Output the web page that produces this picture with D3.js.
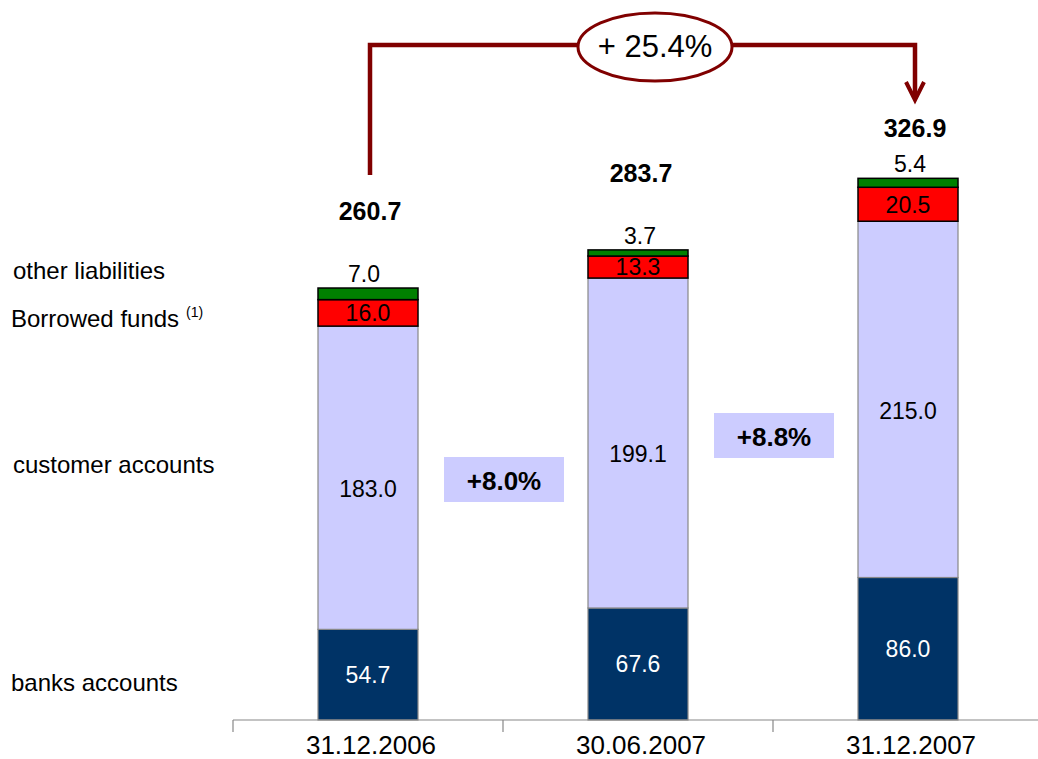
<!DOCTYPE html>
<html><head><meta charset="utf-8">
<script src="https://cdn.jsdelivr.net/npm/d3@7"></script>
<style>body{margin:0;background:#fff}svg{display:block;font-family:"Liberation Sans",Arial,sans-serif}</style>
</head><body>
<svg id="c" width="1038" height="759"></svg>
<script>
const categories = ["31.12.2006", "30.06.2007", "31.12.2007"];
const seriesNames = ["banks accounts", "customer accounts", "Borrowed funds", "other liabilities"];
const banks = [54.7, 67.6, 86.0];
const customer = [183.0, 199.1, 215.0];
const borrowed = [16.0, 13.3, 20.5];
const other = [7.0, 3.7, 5.4];
const totals = [260.7, 283.7, 326.9];
const growth = ["+8.0%", "+8.8%"];
const overallGrowth = "+ 25.4%";

const colors = ["#003366", "#ccccff", "#ff0000", "#008000"];
const strokes = ["#888888", "#888888", "#000000", "#000000"];
const labelColors = ["#ffffff", "#000000", "#000000", "#000000"];
const labelNudge = [0, 11, 0, 0];

const svg = d3.select("#c");
const x = d3.scaleBand().domain(categories).range([233, 1043]).paddingInner(0).paddingOuter(0);
const y = d3.scaleLinear().domain([0, 400]).range([720, 720 - 400 * 1.657]);
const barW = 100;
const cx = c => x(c) + x.bandwidth() / 2;

const rows = categories.map((c, i) => ({cat: c, b: banks[i], cu: customer[i], bo: borrowed[i], o: other[i]}));
const stack = d3.stack().keys(["b", "cu", "bo", "o"])(rows);

stack.forEach((layer, li) => {
  const g = svg.append("g");
  g.selectAll("rect").data(layer).join("rect")
    .attr("x", d => cx(d.data.cat) - barW / 2)
    .attr("width", barW)
    .attr("y", d => y(d[1]))
    .attr("height", d => y(d[0]) - y(d[1]))
    .attr("fill", colors[li])
    .attr("stroke", strokes[li])
    .attr("stroke-width", li >= 2 ? 1.5 : 1.2);
  if (li < 3) {
    g.selectAll("text").data(layer).join("text")
      .attr("x", d => cx(d.data.cat))
      .attr("y", d => (y(d[0]) + y(d[1])) / 2 + labelNudge[li])
      .attr("dy", "0.36em")
      .attr("text-anchor", "middle")
      .attr("font-size", 23)
      .attr("fill", labelColors[li])
      .text(d => (d[1] - d[0]).toFixed(1));
  }
});

// other liabilities labels above bars
const othDx = [-4, 2, 2];
svg.selectAll("text.oth").data(categories).join("text").attr("class", "oth")
  .attr("x", (c, i) => cx(c) + othDx[i])
  .attr("y", (c, i) => y(totals[i]) - 6)
  .attr("text-anchor", "middle").attr("font-size", 23)
  .text((c, i) => other[i].toFixed(1));

// totals
const totalDy = [-68, -68, -41];
const totalDx = [2, 3, 7];
svg.selectAll("text.tot").data(categories).join("text").attr("class", "tot")
  .attr("x", (c, i) => cx(c) + totalDx[i])
  .attr("y", (c, i) => y(totals[i]) + totalDy[i])
  .attr("text-anchor", "middle").attr("font-size", 25).attr("font-weight", "bold")
  .text((c, i) => totals[i].toFixed(1));

// axis
const axisG = svg.append("g");
axisG.append("line").attr("x1", 233).attr("x2", 1043).attr("y1", 720).attr("y2", 720)
  .attr("stroke", "#888").attr("stroke-width", 1.2);
const tickXs = categories.map(c => x(c)).concat([x(categories[2]) + x.bandwidth()]);
axisG.selectAll("line.t").data(tickXs).join("line").attr("class", "t")
  .attr("x1", d => d).attr("x2", d => d).attr("y1", 720).attr("y2", 732)
  .attr("stroke", "#888").attr("stroke-width", 1.2);
axisG.selectAll("text").data(categories).join("text")
  .attr("x", c => cx(c) + 3).attr("y", 754)
  .attr("text-anchor", "middle").attr("font-size", 26)
  .text(c => c);

// legend labels on left
const legendY = [279, 327, 473, 691];
const legendX = [13, 11, 13, 11];
const legendOrder = [3, 2, 1, 0];
legendOrder.forEach((si, k) => {
  const t = svg.append("text").attr("x", legendX[k]).attr("y", legendY[k])
    .attr("font-size", 24).text(seriesNames[si]);
  if (si === 2) t.append("tspan").attr("font-size", 14).attr("dx", 7).attr("dy", -10).text("(1)");
});

// growth boxes
const growthBoxes = [{x: 444, y: 457}, {x: 714, y: 413}];
growth.forEach((g, i) => {
  svg.append("rect").attr("x", growthBoxes[i].x).attr("y", growthBoxes[i].y)
    .attr("width", 120).attr("height", 45).attr("fill", "#ccccff");
  svg.append("text").attr("x", growthBoxes[i].x + 60).attr("y", growthBoxes[i].y + 33)
    .attr("text-anchor", "middle")
    .attr("font-size", 26).attr("font-weight", "bold").text(g);
});

// bracket arrow
const red = "#800000";
const x0 = cx(categories[0]) + 2, x2 = cx(categories[2]) + 7;
svg.append("path")
  .attr("d", `M${x0},175 V45 H${x2} V98`)
  .attr("fill", "none").attr("stroke", red).attr("stroke-width", 4.5);
svg.append("path")
  .attr("d", `M${x2 - 9},82 L${x2},100 L${x2 + 9},82`)
  .attr("fill", "none").attr("stroke", red).attr("stroke-width", 4);
svg.append("ellipse").attr("cx", 655).attr("cy", 47).attr("rx", 77).attr("ry", 34)
  .attr("fill", "#fff").attr("stroke", red).attr("stroke-width", 3);
svg.append("text").attr("x", 655).attr("y", 57)
  .attr("text-anchor", "middle").attr("font-size", 31).text(overallGrowth);
</script>
</body></html>
